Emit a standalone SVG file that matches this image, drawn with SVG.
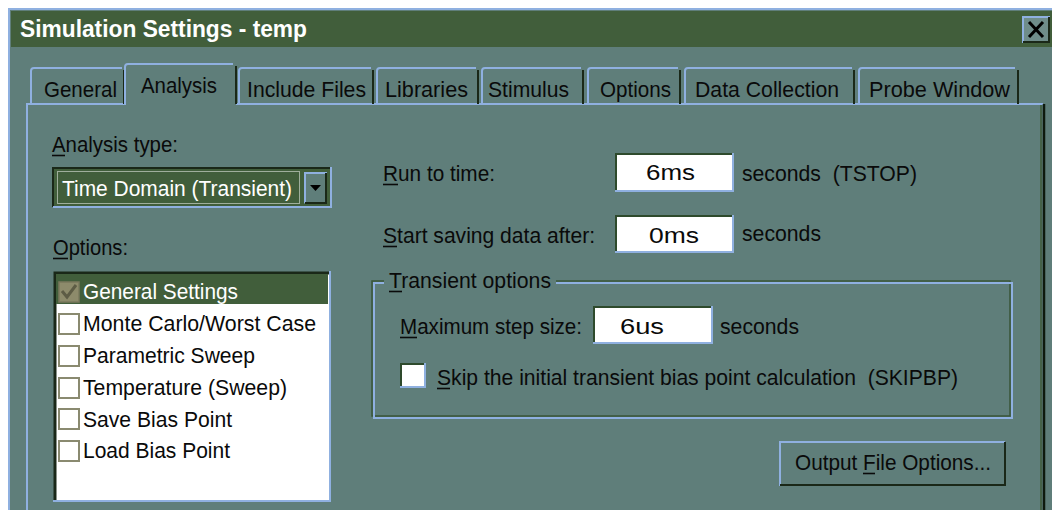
<svg xmlns="http://www.w3.org/2000/svg" width="1052" height="510" viewBox="0 0 1052 510">
<style>
.t{font-family:"Liberation Sans",Arial,sans-serif;font-size:22px;fill:#0a0a0a;white-space:pre}
.w{fill:#ffffff}
.ul{stroke:#0a0a0a;stroke-width:1.6;fill:none}
.lt{stroke:#8fb0e0;stroke-width:2;fill:none}
.dk{stroke:#1a2818;stroke-width:2;fill:none}
.dg{stroke:#2e4a2c;stroke-width:2;fill:none}
</style>
<rect width="1052" height="510" fill="#ffffff"/>
<g id="dialog">
<rect x="8" y="8" width="1044" height="502" fill="#5f7e7a"/>
<path class="lt" d="M9 510 V9 H1052"/>
<rect x="11" y="11" width="1041" height="36" fill="#415e3b"/>
<text x="20" y="37" style="font-family:'Liberation Sans',Arial,sans-serif;font-size:23px;font-weight:bold;fill:#ffffff" textLength="287" lengthAdjust="spacingAndGlyphs">Simulation Settings - temp</text>
</g>
<g id="close-button">
<rect x="1022" y="16" width="28" height="27" fill="#6f8d8a"/>
<path class="lt" d="M1023 43 V17 H1050"/>
<path class="dk" d="M1023 42 H1049 V17"/>
<path d="M1029 22 L1043 37 M1043 22 L1029 37" stroke="#000" stroke-width="3"/>
</g>
<g id="panel">
<path class="lt" d="M27 510 V104 H124 M236 104 H1043"/>
<path d="M1041 105 V510" stroke="#3c5a3a" stroke-width="1.5"/>
<path d="M1044 104 V510" stroke="#0e1a0e" stroke-width="2.5"/>
</g>
<g id="tabs">
<g id="tab-general"><path class="lt" d="M31 104 V71 Q31 68 34 68 H122"/><path class="dk" d="M124 70 V104"/><text class="t" x="44" y="97" textLength="73" lengthAdjust="spacingAndGlyphs">General</text></g>
<g id="tab-analysis"><path class="lt" d="M125 105 V67 Q125 64 128 64 H233"/><path class="dk" d="M236 66 V104"/><text class="t" x="141" y="93" textLength="76" lengthAdjust="spacingAndGlyphs">Analysis</text></g>
<g id="tab-include"><path class="lt" d="M239 104 V71 Q239 68 242 68 H371"/><path class="dk" d="M373 70 V104"/><text class="t" x="247" y="97" textLength="119" lengthAdjust="spacingAndGlyphs">Include Files</text></g>
<g id="tab-libraries"><path class="lt" d="M377 104 V71 Q377 68 380 68 H476"/><path class="dk" d="M478 70 V104"/><text class="t" x="385" y="97" textLength="83" lengthAdjust="spacingAndGlyphs">Libraries</text></g>
<g id="tab-stimulus"><path class="lt" d="M482 104 V71 Q482 68 485 68 H581"/><path class="dk" d="M583 70 V104"/><text class="t" x="488" y="97" textLength="81" lengthAdjust="spacingAndGlyphs">Stimulus</text></g>
<g id="tab-options"><path class="lt" d="M588 104 V71 Q588 68 591 68 H678"/><path class="dk" d="M680 70 V104"/><text class="t" x="600" y="97" textLength="71" lengthAdjust="spacingAndGlyphs">Options</text></g>
<g id="tab-data"><path class="lt" d="M685 104 V71 Q685 68 688 68 H852"/><path class="dk" d="M854 70 V104"/><text class="t" x="695" y="97" textLength="144" lengthAdjust="spacingAndGlyphs">Data Collection</text></g>
<g id="tab-probe"><path class="lt" d="M859 104 V71 Q859 68 862 68 H1015"/><path class="dk" d="M1018 70 V104"/><text class="t" x="869" y="97" textLength="141" lengthAdjust="spacingAndGlyphs">Probe Window</text></g>
</g>
<g id="analysis-type">
<text class="t" x="52" y="152" textLength="126" lengthAdjust="spacingAndGlyphs">Analysis type:</text>
<path class="ul" d="M52 155.5 H65"/>
<rect x="53" y="168" width="278" height="39" fill="#415e3b"/>
<path class="dk" d="M53 207 V168 H330"/>
<path class="lt" d="M53 207 H331 V167"/>
<rect x="57.5" y="171.5" width="242" height="32" fill="none" stroke="#ffffff" stroke-width="1" stroke-dasharray="1 1"/>
<text class="t w" x="62" y="196" textLength="230" lengthAdjust="spacingAndGlyphs">Time Domain (Transient)</text>
<rect x="304" y="172" width="23" height="32" fill="#5f7e7a"/>
<path class="lt" d="M305 203 V173 H327"/>
<path class="dk" d="M305 203 H326 V173"/>
<path d="M310 185 H321 L315.5 191 Z" fill="#000"/>
</g>
<g id="options-list">
<text class="t" x="53" y="255" textLength="75" lengthAdjust="spacingAndGlyphs">Options:</text>
<path class="ul" d="M53 258.5 H68"/>
<rect x="54" y="272" width="275" height="228" fill="#ffffff"/>
<path d="M55 501 V273 H329" stroke="#1a2818" stroke-width="3" fill="none"/>
<path class="lt" d="M53 501 H330 V271"/>
<rect x="56" y="274" width="272" height="30" fill="#415e3b"/>
<rect x="59" y="282" width="20" height="20" fill="#8d8b6b" stroke="#7a785c" stroke-width="1.5"/>
<path d="M62 291 L67 297 L76 285" stroke="#5d5c45" stroke-width="3" fill="none"/>
<text class="t w" x="83" y="299" textLength="155" lengthAdjust="spacingAndGlyphs">General Settings</text>
<g fill="none" stroke="#8a8a70" stroke-width="2">
<rect x="59" y="314" width="20" height="20"/>
<rect x="59" y="346" width="20" height="20"/>
<rect x="59" y="378" width="20" height="20"/>
<rect x="59" y="409" width="20" height="20"/>
<rect x="59" y="441" width="20" height="20"/>
</g>
<text class="t" x="83" y="331" textLength="233" lengthAdjust="spacingAndGlyphs">Monte Carlo/Worst Case</text>
<text class="t" x="83" y="363" textLength="172" lengthAdjust="spacingAndGlyphs">Parametric Sweep</text>
<text class="t" x="83" y="395" textLength="204" lengthAdjust="spacingAndGlyphs">Temperature (Sweep)</text>
<text class="t" x="83" y="427" textLength="149" lengthAdjust="spacingAndGlyphs">Save Bias Point</text>
<text class="t" x="83" y="458" textLength="147" lengthAdjust="spacingAndGlyphs">Load Bias Point</text>
</g>
<g id="run-to-time">
<text class="t" x="383" y="181" textLength="112" lengthAdjust="spacingAndGlyphs">Run to time:</text>
<path class="ul" d="M383 184.5 H398"/>
<rect x="615" y="153" width="118" height="39" fill="#ffffff"/>
<path class="dg" d="M616 192 V154 H733"/>
<path class="lt" d="M615 191 H733 V153"/>
<text class="t" x="646" y="180" textLength="49" lengthAdjust="spacingAndGlyphs">6ms</text>
<text class="t" x="742" y="181" textLength="175" lengthAdjust="spacingAndGlyphs">seconds  (TSTOP)</text>
</g>
<g id="start-saving">
<text class="t" x="383" y="243" textLength="212" lengthAdjust="spacingAndGlyphs">Start saving data after:</text>
<path class="ul" d="M383 246.5 H397"/>
<rect x="615" y="215" width="118" height="38" fill="#ffffff"/>
<path class="dg" d="M616 253 V216 H733"/>
<path class="lt" d="M615 252 H733 V215"/>
<text class="t" x="649" y="243" textLength="50" lengthAdjust="spacingAndGlyphs">0ms</text>
<text class="t" x="742" y="241" textLength="79" lengthAdjust="spacingAndGlyphs">seconds</text>
</g>
<g id="transient-options">
<path d="M384 281 H372 V416 H1010 V281 H556" stroke="#3a5638" stroke-width="1.5" fill="none"/>
<path class="lt" d="M384 283 H374 V418 H1012 V283 H556"/>
<text class="t" x="389" y="288" textLength="162" lengthAdjust="spacingAndGlyphs">Transient options</text>
<path class="ul" d="M389 291.5 H402"/>
<text class="t" x="400" y="334" textLength="182" lengthAdjust="spacingAndGlyphs">Maximum step size:</text>
<path class="ul" d="M400 337.5 H417"/>
<rect x="593" y="306" width="119" height="38" fill="#ffffff"/>
<path class="dg" d="M594 344 V307 H712"/>
<path class="lt" d="M593 343 H712 V306"/>
<text class="t" x="620" y="334" textLength="44" lengthAdjust="spacingAndGlyphs">6us</text>
<text class="t" x="720" y="334" textLength="79" lengthAdjust="spacingAndGlyphs">seconds</text>
<rect x="400" y="363" width="26" height="25" fill="#ffffff"/>
<path class="dg" d="M401 388 V364 H426"/>
<path class="lt" d="M400 387 H425 V363"/>
<text class="t" x="437" y="385" textLength="521" lengthAdjust="spacingAndGlyphs">Skip the initial transient bias point calculation  (SKIPBP)</text>
<path class="ul" d="M437 388.5 H450"/>
</g>
<g id="output-file-options">
<path class="lt" d="M780 486 V442 H1005"/>
<path class="dk" d="M780 485 H1005 V442"/>
<text class="t" x="795" y="470" textLength="196" lengthAdjust="spacingAndGlyphs">Output File Options...</text>
<path class="ul" d="M863 473.5 H875"/>
</g>
</svg>
